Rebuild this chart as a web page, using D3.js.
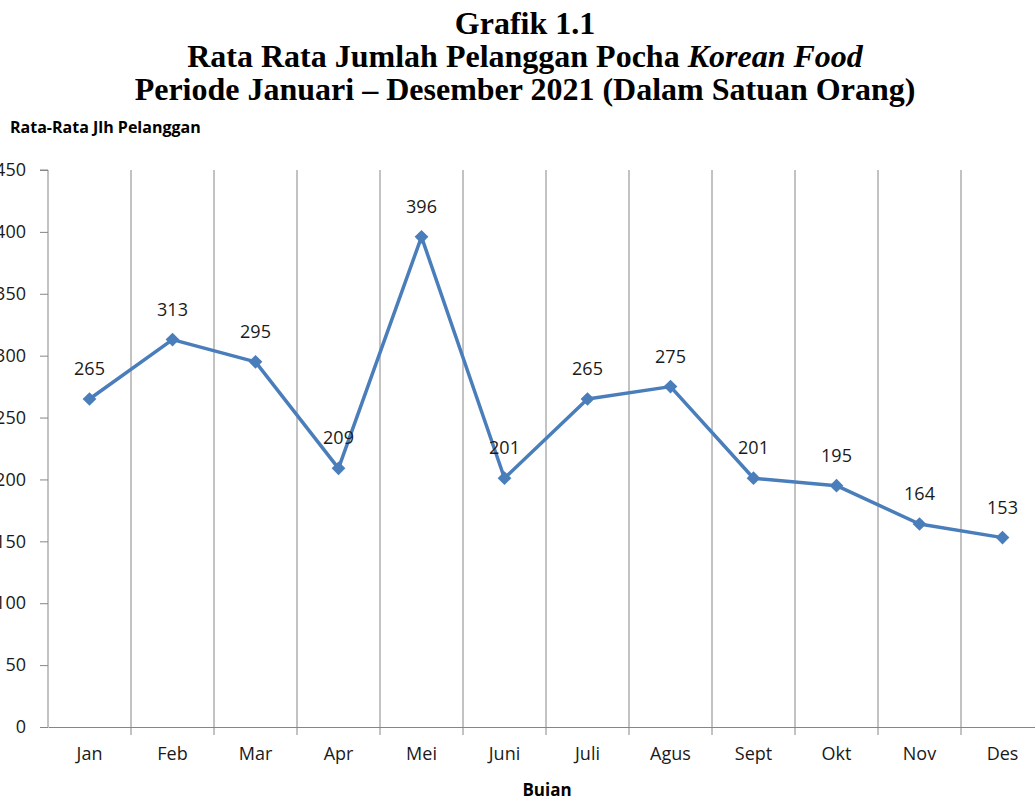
<!DOCTYPE html>
<html>
<head>
<meta charset="utf-8">
<script src="https://cdn.jsdelivr.net/npm/d3@7"></script>
<style>
  body { margin: 0; background: #fff; }
  svg { display: block; }
</style>
</head>
<body>
<div id="chart-area"></div>
<script>
const months = ["Jan", "Feb", "Mar", "Apr", "Mei", "Juni", "Juli", "Agus", "Sept", "Okt", "Nov", "Des"];
const pelanggan = [265, 313, 295, 209, 396, 201, 265, 275, 201, 195, 164, 153];
const yTicks = [0, 50, 100, 150, 200, 250, 300, 350, 400, 450];

const width = 1035;
const height = 800;
const margin = {left: 48, top: 170, bottom: 73};
const plotW = 996;

const svg = d3.select("#chart-area")
  .append("svg")
  .attr("width", width)
  .attr("height", height);

// titles
const titleFont = "'Liberation Serif', 'Times New Roman', serif";
const title = svg.append("text")
  .attr("text-anchor", "middle")
  .style("font-family", titleFont)
  .style("font-weight", "bold")
  .style("font-size", "32px");
title.append("tspan").attr("x", 525).attr("y", 34).text("Grafik 1.1");
const t2 = title.append("tspan").attr("x", 525).attr("y", 67);
t2.append("tspan").text("Rata Rata Jumlah Pelanggan Pocha ");
t2.append("tspan").style("font-style", "italic").text("Korean Food");
title.append("tspan").attr("x", 525).attr("y", 100).text("Periode Januari \u2013 Desember 2021 (Dalam Satuan Orang)");

const x = d3.scaleBand()
  .domain(months)
  .range([margin.left, margin.left + plotW]);

const y = d3.scaleLinear()
  .domain([0, 450])
  .range([height - margin.bottom, margin.top]);

const labelFont = "'Open Sans', sans-serif";

// vertical gridlines at band boundaries
svg.append("g")
  .selectAll("line")
  .data(months.slice(1))
  .join("line")
  .attr("x1", d => x(d))
  .attr("x2", d => x(d))
  .attr("y1", y(450))
  .attr("y2", y(0) + 8)
  .attr("stroke", "#868686")
  .attr("stroke-width", 1);

// y axis (labels run off the left edge as in the original)
const yAxis = svg.append("g")
  .attr("transform", `translate(${margin.left},0)`)
  .call(d3.axisLeft(y).tickValues(yTicks).tickSize(8).tickPadding(14));
yAxis.select(".domain").attr("stroke", "#868686").attr("d", `M-8,${y(450)}H0V${y(0)}`);
yAxis.selectAll(".tick line").attr("stroke", "#868686");
yAxis.selectAll("text")
  .attr("fill", "#1a1a1a")
  .style("font-family", labelFont)
  .style("font-size", "18px");

// x axis
const xAxis = svg.append("g")
  .attr("transform", `translate(0,${y(0)})`)
  .call(d3.axisBottom(x).tickSize(0).tickPadding(20));
xAxis.select(".domain").attr("stroke", "#868686");
xAxis.selectAll("text")
  .attr("fill", "#1a1a1a")
  .style("font-family", labelFont)
  .style("font-size", "18px");

// line
const cx = d => x(d) + x.bandwidth() / 2;
const line = d3.line()
  .x((d, i) => cx(months[i]))
  .y(d => y(d));

svg.append("path")
  .datum(pelanggan)
  .attr("fill", "none")
  .attr("stroke", "#4a7ebb")
  .attr("stroke-width", 3.5)
  .attr("stroke-linejoin", "round")
  .attr("d", line);

// diamond markers
svg.append("g")
  .selectAll("path")
  .data(pelanggan)
  .join("path")
  .attr("d", d3.symbol(d3.symbolDiamond2, 120))
  .attr("transform", (d, i) => `translate(${cx(months[i])},${y(d)})`)
  .attr("fill", "#4a7ebb");

// data labels
svg.append("g")
  .selectAll("text")
  .data(pelanggan)
  .join("text")
  .attr("x", (d, i) => cx(months[i]))
  .attr("y", d => y(d) - 24)
  .attr("text-anchor", "middle")
  .style("font-family", labelFont)
  .style("font-size", "18px")
  .attr("fill", "#1a1a1a")
  .text(d => d);

// axis titles
svg.append("text")
  .attr("x", 10)
  .attr("y", 133)
  .style("font-family", labelFont)
  .style("font-weight", "bold")
  .style("font-size", "16px")
  .text("Rata-Rata  Jlh Pelanggan");

svg.append("text")
  .attr("x", 547)
  .attr("y", 796)
  .attr("text-anchor", "middle")
  .style("font-family", labelFont)
  .style("font-weight", "bold")
  .style("font-size", "17px")
  .text("Buian");
</script>
</body>
</html>
